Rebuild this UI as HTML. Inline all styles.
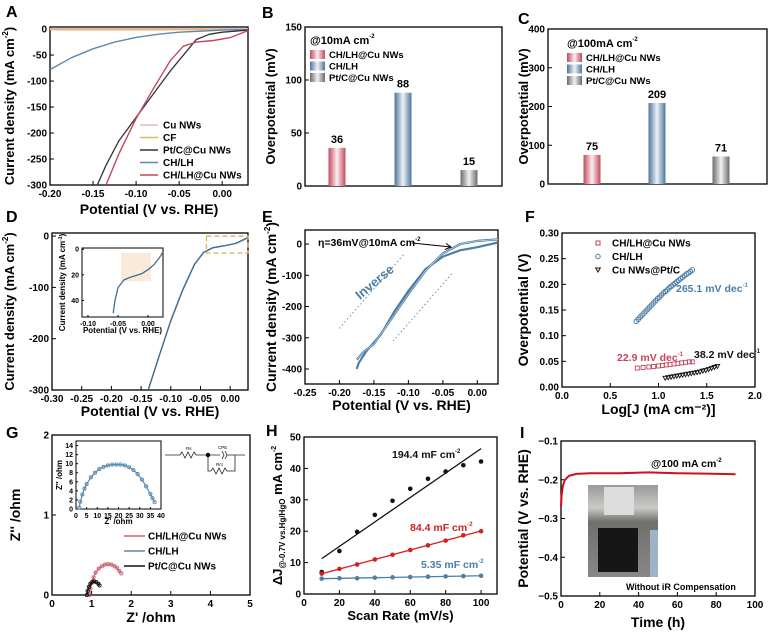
<!DOCTYPE html>
<html><head><meta charset="utf-8">
<style>
html,body{margin:0;padding:0;background:#fff;}
svg{display:block;font-family:"Liberation Sans",Arial,sans-serif;font-weight:bold;}
</style></head>
<body>
<svg id="fig" width="772" height="638" viewBox="0 0 772 638" xmlns="http://www.w3.org/2000/svg">
<defs>
<linearGradient id="gR" x1="0" x2="1"><stop offset="0" stop-color="#c24a5e"/><stop offset="0.5" stop-color="#fbeef0"/><stop offset="1" stop-color="#c24a5e"/></linearGradient>
<linearGradient id="gB" x1="0" x2="1"><stop offset="0" stop-color="#4f7598"/><stop offset="0.5" stop-color="#eef3f8"/><stop offset="1" stop-color="#4f7598"/></linearGradient>
<linearGradient id="gG" x1="0" x2="1"><stop offset="0" stop-color="#6b6b6b"/><stop offset="0.5" stop-color="#f2f2f2"/><stop offset="1" stop-color="#6b6b6b"/></linearGradient>
<linearGradient id="photo" x1="0" y1="0" x2="0" y2="1"><stop offset="0" stop-color="#9a9a98"/><stop offset="0.25" stop-color="#c9c9c6"/><stop offset="0.4" stop-color="#6f6f6c"/><stop offset="1" stop-color="#888"/></linearGradient>
</defs>
</svg>
<script>
// ---------- DATA ----------
// Panel A
const aCHLHx=[-0.2,-0.175,-0.15,-0.125,-0.1,-0.075,-0.05,-0.025,0,0.03];
const aCHLHy=[-78,-55,-38,-25,-16,-10,-6,-4,-2,-1];
const aPtx=[-0.145,-0.135,-0.12,-0.1,-0.08,-0.06,-0.04,-0.03,-0.015,0,0.03];
const aPty=[-300,-262,-215,-170,-125,-80,-40,-20,-10,-6,-2];
const aRedx=[-0.135,-0.12,-0.1,-0.08,-0.06,-0.045,-0.03,-0.01,0.01,0.03];
const aRedy=[-300,-240,-172,-115,-60,-33,-25,-22,-16,-3];
const aCFx=[-0.2,0.03]; const aCFy=[-1,-1];
const aCux=[-0.2,0.03]; const aCuy=[0.5,0.5];
const aXticks=[-0.2,-0.15,-0.1,-0.05,0]; const aXlabels=["-0.20","-0.15","-0.10","-0.05","0.00"];
const aYticks=[0,-50,-100,-150,-200,-250,-300];
// Panel B / C
const bCats=["CH/LH@Cu NWs","CH/LH","Pt/C@Cu NWs"];
const bVals=[36,88,15];
const cVals=[75,209,71];
const bYticks=[0,50,100,150];
const cYticks=[0,100,200,300,400];
// Panel D
const dX=[-0.138,-0.12,-0.1,-0.08,-0.06,-0.045,-0.03,-0.01,0.01,0.03];
const dY=[-300,-235,-165,-105,-55,-32,-23,-19,-14,-3];
const dInX=[-0.058,-0.055,-0.05,-0.04,-0.03,-0.01,0,0.01,0.02,0.025];
const dInY=[-50,-40,-30,-24,-22,-19,-16,-12,-6,-2];
const dXticks=[-0.3,-0.25,-0.2,-0.15,-0.1,-0.05,0]; const dXlabels=["-0.30","-0.25","-0.20","-0.15","-0.10","-0.05","0.00"];
const dYticks=[0,-100,-200,-300];
// Panel E
const eX1=[-0.175,-0.165,-0.15,-0.125,-0.1,-0.075,-0.05,-0.025,0,0.03];
const eY1=[-370,-345,-320,-240,-160,-85,-30,0,10,15];
const eX2=[-0.175,-0.172,-0.16,-0.14,-0.12,-0.1,-0.075,-0.05,-0.025,0,0.03];
const eY2=[-400,-380,-340,-290,-215,-150,-80,-40,-20,-10,5];
const eXticks=[-0.25,-0.2,-0.15,-0.1,-0.05,0]; const eXlabels=["-0.25","-0.20","-0.15","-0.10","-0.05","0.00"];
const eYticks=[0,-100,-200,-300,-400];
// Panel F
const fBx=[0.77,0.79,0.81,0.83,0.85,0.87,0.89,0.91,0.93,0.95,0.97,0.99,1.01,1.03,1.05,1.07,1.09,1.11,1.13,1.15,1.17,1.19,1.21,1.23,1.25,1.27,1.29,1.31,1.33,1.35];
const fBy=[0.128,0.132,0.136,0.140,0.144,0.148,0.152,0.156,0.160,0.164,0.168,0.172,0.175,0.179,0.183,0.186,0.189,0.193,0.196,0.199,0.202,0.205,0.208,0.211,0.214,0.217,0.220,0.222,0.225,0.228];
const fRx=[0.78,0.84,0.9,0.95,1.0,1.04,1.08,1.12,1.16,1.2,1.24,1.28,1.32,1.35];
const fRy=[0.037,0.038,0.039,0.040,0.041,0.042,0.043,0.044,0.045,0.046,0.047,0.048,0.049,0.049];
const fKx=[1.07,1.1,1.13,1.16,1.19,1.22,1.25,1.28,1.31,1.34,1.37,1.4,1.43,1.46,1.49,1.52,1.55,1.58,1.61];
const fKy=[0.017,0.018,0.019,0.020,0.021,0.022,0.023,0.024,0.025,0.026,0.027,0.028,0.029,0.031,0.032,0.034,0.036,0.038,0.040];
const fXticks=[0,0.5,1,1.5,2]; const fXlabels=["0.0","0.5","1.0","1.5","2.0"];
const fYticks=[0,0.05,0.1,0.15,0.2,0.25,0.3]; const fYlabels=["0.00","0.05","0.10","0.15","0.20","0.25","0.30"];
// Panel G
const gRx=[0.95,0.97,1.0,1.05,1.1,1.18,1.26,1.34,1.42,1.5,1.58,1.64,1.7,1.75];
const gRy=[0.0,0.08,0.15,0.22,0.28,0.33,0.36,0.38,0.385,0.38,0.36,0.34,0.3,0.27];
const gKx=[0.88,0.9,0.93,0.97,1.02,1.07,1.12,1.17,1.2];
const gKy=[0.0,0.05,0.1,0.14,0.165,0.17,0.16,0.14,0.12];
const gBx=[1.5,2,3,4,5,7,9,11,13,15,17,19,21,23,25,27,29,31,33,35,36,37];
const gBy=[0.3,1.6,3.2,4.5,5.5,7.0,8.0,8.8,9.3,9.6,9.8,9.8,9.8,9.6,9.2,8.6,7.7,6.5,5.0,3.3,2.4,1.5];
const gXticks=[0,1,2,3,4,5]; const gYticks=[0,1,2];
const gInXticks=[0,5,10,15,20,25,30,35,40]; const gInYticks=[0,2,4,6,8,10,12,14];
// Panel H
const hScan=[10,20,30,40,50,60,70,80,90,100];
const hBlack=[7,13.7,19.8,25.2,29.7,33.5,36.7,39,41,42.2];
const hRed=[6.5,8,9.4,11,12.5,14,15.5,17,18.7,20];
const hBlue=[4.9,5,5,5.2,5.3,5.4,5.5,5.6,5.7,5.8];
const hXticks=[0,20,40,60,80,100]; const hYticks=[0,10,20,30,40,50];
// Panel I
const iT=[0,0.3,1,2,4,8,15,30,45,60,75,90];
const iV=[-0.27,-0.24,-0.215,-0.2,-0.19,-0.185,-0.183,-0.183,-0.181,-0.183,-0.184,-0.186];
const iXticks=[0,20,40,60,80,100]; const iYticks=[-0.1,-0.2,-0.3,-0.4,-0.5]; const iYlabels=["\u22120.1","\u22120.2","\u22120.3","\u22120.4","\u22120.5"];

// ---------- HELPERS ----------
const NS="http://www.w3.org/2000/svg";
const svg=document.getElementById('fig');
function mk(tag,attrs,parent){const e=document.createElementNS(NS,tag);for(const k in attrs)e.setAttribute(k,attrs[k]);(parent||svg).appendChild(e);return e;}
function txt(s,x,y,size,parent,extra){const t=mk('text',Object.assign({x:x,y:y,'font-size':size},extra||{}),parent);t.textContent=s;return t;}
function panel(o){
  const g=mk('g',{});
  
  
  const sx=v=>o.x0+(v-o.xd[0])/(o.xd[1]-o.xd[0])*(o.x1-o.x0);
  const sy=v=>o.y1-(v-o.yd[0])/(o.yd[1]-o.yd[0])*(o.y1-o.y0);
  const fr=mk('rect',{x:o.x0,y:o.y0,width:o.x1-o.x0,height:o.y1-o.y0,fill:'none',stroke:'#000','stroke-width':o.sw||1.3},g);
  
  
  const fs=o.fs||10;
  (o.xt||[]).forEach((v,i)=>{
    mk('line',{x1:sx(v),x2:sx(v),y1:o.y1,y2:o.y1-(o.tl||4),stroke:'#000','stroke-width':1},g);
    const t=txt(o.xl?o.xl[i]:String(v),sx(v),o.y1+fs+2,fs,g,{'text-anchor':'middle'});
    
    
  });
  (o.yt||[]).forEach((v,i)=>{
    mk('line',{x1:o.x0,x2:o.x0+(o.tl||4),y1:sy(v),y2:sy(v),stroke:'#000','stroke-width':1},g);
    const t=txt(o.yl?o.yl[i]:String(v),o.x0-3,sy(v)+fs*0.35,fs,g,{'text-anchor':'end'});
    
    
  });
  if(o.xtitle){const t=txt(o.xtitle,(o.x0+o.x1)/2,o.xty,o.tfs||14,g,{'text-anchor':'middle'});
    
    }
  if(o.ytitle){const t=mk('text',{x:0,y:0,'font-size':o.ytfs||o.tfs||14,'text-anchor':'middle',transform:`translate(${o.ytx},${(o.y0+o.y1)/2}) rotate(-90)`},g);t.innerHTML=o.ytitle;
    
    }
  return {g,sx,sy};
}
function poly(P,xs,ys,color,w,parent,name){
  const d=xs.map((x,i)=>(i?'L':'M')+P.sx(x).toFixed(1)+','+P.sy(ys[i]).toFixed(1)).join('');
  const p=mk('path',{d:d,fill:'none',stroke:color,'stroke-width':w,'stroke-linejoin':'round'},parent||P.g);
  
  
  return p;
}
function letter(s,x,y){const t=txt(s,x,y,16,svg);
  
  }
const CD='Current density (mA cm<tspan font-size="8" dy="-6">-2</tspan><tspan dy="6">)</tspan>';

// ---------- A ----------
letter('A',6,17);
const A=panel({name:'panel-a',x0:50,x1:248,y0:27,y1:185,xd:[-0.2,0.03],yd:[-300,4],xt:aXticks,xl:aXlabels,yt:aYticks,xtitle:'Potential (V vs. RHE)',xty:214,ytitle:CD,ytx:14,ytfs:13});
poly(A,aCux,aCuy,'#f4b6bd',1.5,null,'series-cu-nws');
poly(A,aCFx,aCFy,'#e2b56b',1.5,null,'series-cf');
poly(A,aCHLHx,aCHLHy,'#5a8ab0',1.4,null,'series-ch-lh');
poly(A,aPtx,aPty,'#333',1.3,null,'series-ptc-cu-nws');
poly(A,aRedx,aRedy,'#c4465c',1.4,null,'series-ch-lh-cu-nws');
[['Cu NWs','#f4b6bd'],['CF','#e2b56b'],['Pt/C@Cu NWs','#333'],['CH/LH','#5a8ab0'],['CH/LH@Cu NWs','#c4465c']].forEach((e,i)=>{
  const y=125+i*12.5;
  const l=mk('line',{x1:140,x2:158,y1:y,y2:y,stroke:e[1],'stroke-width':1.6},A.g);
  
  
  const t=txt(e[0],163,y+3.5,10,A.g);
  
  
});

// ---------- B / C ----------
function barPanel(name,x0,x1,y0,y1,ymax,yt,vals,centers,title,ytx,lx,ly){
  const P=panel({name:name,x0:x0,x1:x1,y0:y0,y1:y1,xd:[0,1],yd:[0,ymax],yt:yt,ytitle:'Overpotential (mV)',ytx:ytx,tfs:13});
  const fills=['url(#gR)','url(#gB)','url(#gG)'];
  vals.forEach((v,i)=>{
    const r=mk('rect',{x:centers[i]-8.5,y:P.sy(v),width:17,height:P.sy(0)-P.sy(v),fill:fills[i]},P.g);
    
    
    const t=txt(String(v),centers[i],P.sy(v)-5,11,P.g,{'text-anchor':'middle'});
    
    
  });
  const tt=mk('text',{x:lx,y:ly,'font-size':11},P.g);tt.innerHTML=title+'<tspan font-size="6" dy="-6">-2</tspan>';
  
  
  bCats.forEach((c,i)=>{
    const y=ly+13+i*11.5;
    const s=mk('rect',{x:lx,y:y-7,width:15,height:9,fill:fills[i]},P.g);
    
    
    const t=txt(c,lx+19,y+1,9.5,P.g);
    
    
  });
  return P;
}
letter('B',262,18);
barPanel('panel-b',305,502,27,186,150,bYticks,bVals,[337,403,469],'@10mA cm',275,310,44);
letter('C',518,24);
barPanel('panel-c',548,767,29,184,400,cYticks,cVals,[592,657,721],'@100mA cm',528,567,47);

// ---------- D ----------
letter('D',6,222);
const D=panel({name:'panel-d',x0:52,x1:248,y0:233,y1:390,xd:[-0.3,0.03],yd:[-300,6],xt:dXticks,xl:dXlabels,yt:dYticks,xtitle:'Potential (V vs. RHE)',xty:416,ytitle:CD,ytx:14,ytfs:13});
poly(D,dX,dY,'#3f6f96',1.5,null,'series-ch-lh-cu-nws');
const db=mk('rect',{x:D.sx(-0.04),y:D.sy(0),width:D.sx(0.03)-D.sx(-0.04),height:D.sy(-33)-D.sy(0),fill:'none',stroke:'#d9b25e','stroke-width':1.3,'stroke-dasharray':'5,3'},D.g);


const DI=panel({name:'panel-d-inset',x0:82,x1:163,y0:248,y1:317,xd:[-0.11,0.025],yd:[-53,1],xt:[-0.1,-0.05,0],xl:['-0.10','-0.05','0.00'],yt:[0,-20,-40],yl:['0','20','40'],fs:7,sw:1,tl:2,xtitle:'Potential (V vs. RHE)',xty:333,tfs:8,ytitle:'Current density (mA cm<tspan font-size="5" dy="-3">-1</tspan><tspan dy="3">)</tspan>',ytx:65});
const hr=mk('rect',{x:DI.sx(-0.045),y:DI.sy(-3),width:DI.sx(0.005)-DI.sx(-0.045),height:DI.sy(-25)-DI.sy(-3),fill:'#fbe9da'},DI.g);


poly(DI,dInX,dInY,'#3f6f96',1.3,null,'inset-series');

// ---------- E ----------
letter('E',262,222);
const E=panel({name:'panel-e',x0:305,x1:498,y0:230,y1:384,xd:[-0.25,0.03],yd:[-448,45],xt:eXticks,xl:eXlabels,yt:eYticks,xtitle:'Potential (V vs. RHE)',xty:410,ytitle:CD,ytx:276});
poly(E,eX1,eY1,'#4d7ea6',2.2,null,'cv-forward');
poly(E,eX2,eY2,'#4d7ea6',2.2,null,'cv-reverse');
poly(E,eX1,eY1,'#d6e3ee',0.6,null,'cv-forward-highlight');
[[-0.135,-270,-0.04,-30],[-0.095,-95,-0.18,-310]].forEach((a,i)=>{
  const l=mk('line',{x1:E.sx(a[0])+ (i?40:-45),y1:E.sy(a[1]),x2:E.sx(a[2])+(i?40:-45),y2:E.sy(a[3]),stroke:'#6a8fae','stroke-width':1,'stroke-dasharray':'1.5,2.5'},E.g);
  
  
});
const inv=txt('Inverse',0,0,13,E.g,{fill:'#4d7ea6',transform:'translate(360,300) rotate(-40)'});


const ann=mk('text',{x:318,y:246,'font-size':10.5},E.g);ann.innerHTML='\u03b7=36mV@10mA cm<tspan font-size="6" dy="-5">-2</tspan>';


const al=mk('path',{d:'M412,243 L451,247 M446,243.5 L451,247 L445,249.5',fill:'none',stroke:'#000','stroke-width':1},E.g);



// ---------- F ----------
letter('F',525,222);
const F=panel({name:'panel-f',x0:562,x1:755,y0:233,y1:387,xd:[0,2],yd:[0,0.3],xt:fXticks,xl:fXlabels,yt:fYticks,yl:fYlabels,xtitle:'Log[J (mA cm\u207b\u00b2)]',xty:414,ytitle:'Overpotential (V)',ytx:528});
fBx.forEach((x,i)=>{const c=mk('circle',{cx:F.sx(x),cy:F.sy(fBy[i]),r:2.3,fill:'none',stroke:'#4d7ea6','stroke-width':1},F.g);
  
  });
fRx.forEach((x,i)=>{const c=mk('rect',{x:F.sx(x)-2,y:F.sy(fRy[i])-2,width:4,height:4,fill:'none',stroke:'#c4465c','stroke-width':0.9},F.g);
  
  });
fKx.forEach((x,i)=>{const X=F.sx(x),Y=F.sy(fKy[i]);const c=mk('path',{d:`M${X-2.3},${Y-2}L${X+2.3},${Y-2}L${X},${Y+2}Z`,fill:'none',stroke:'#111','stroke-width':0.9},F.g);
  
  });
[['CH/LH@Cu NWs','sq','#c4465c'],['CH/LH','ci','#4d7ea6'],['Cu NWs@Pt/C','tr','#111']].forEach((e,i)=>{
  const y=243+i*13.5;
  let m;
  if(e[1]==='sq')m=mk('rect',{x:596,y:y-2,width:4,height:4,fill:'none',stroke:e[2]},F.g);
  else if(e[1]==='ci')m=mk('circle',{cx:598,cy:y,r:2.2,fill:'none',stroke:e[2]},F.g);
  else m=mk('path',{d:`M595.7,${y-2}L600.3,${y-2}L598,${y+2}Z`,fill:'none',stroke:e[2]},F.g);
  
  
  const t=txt(e[0],612,y+3.5,10,F.g);
  
  
});
[['265.1 mV dec','#4d7ea6',676,292],['22.9 mV dec','#c4465c',617,361],['38.2 mV dec','#111',694,358]].forEach(e=>{
  const t=mk('text',{x:e[2],y:e[3],'font-size':10.5,fill:e[1]},F.g);t.innerHTML=e[0]+'<tspan font-size="6" dy="-5">-1</tspan>';
  
  
});

// ---------- G ----------
letter('G',6,438);
const G=panel({name:'panel-g',x0:52,x1:250,y0:435,y1:595,xd:[0,5],yd:[0,2],xt:gXticks,yt:gYticks,xtitle:"Z' /ohm",xty:622,ytitle:"Z'' /ohm",ytx:20});
function markLine(P,xs,ys,color,name){poly(P,xs,ys,color,1.2,null,name);
  xs.forEach((x,i)=>{const c=mk('circle',{cx:P.sx(x),cy:P.sy(ys[i]),r:1.6,fill:'none',stroke:color,'stroke-width':0.9},P.g);
    
    });}
markLine(G,gRx,gRy,'#d06070','ch-lh-cu-nws');
markLine(G,gKx,gKy,'#111','ptc-cu-nws');
[['CH/LH@Cu NWs','#d06070'],['CH/LH','#5a8ab0'],['Pt/C@Cu NWs','#111']].forEach((e,i)=>{
  const y=536+i*15;
  const l=mk('line',{x1:124,x2:145,y1:y,y2:y,stroke:e[1],'stroke-width':1.5},G.g);
  
  
  const t=txt(e[0],148,y+3.5,10,G.g);
  
  
});
const GI=panel({name:'panel-g-inset',x0:76,x1:161,y0:441,y1:509,xd:[0,40],yd:[0,15],xt:gInXticks,yt:gInYticks,fs:7,sw:1,tl:2,xtitle:"Z' /ohm",xty:524,tfs:8,ytitle:"Z'' /ohm",ytx:62});
markLine(GI,gBx,gBy,'#5a8ab0','ch-lh');
const circ=mk('g',{},G.g);


mk('path',{d:'M165,455 L180,455 l2,-3 l3,6 l3,-6 l3,6 l3,-6 l2,3 L209,455 M209,455 L220,455 M222,451 l2,4 l-2,4 M225,451 l2,4 l-2,4 M227,455 L245,455 M208,455 L208,471 L211,471 l2,-3 l3,6 l3,-6 l3,6 l3,-6 l2,3 L235,471 L235,455',fill:'none',stroke:'#222','stroke-width':0.8},circ);
mk('circle',{cx:208,cy:455,r:2.2,fill:'#000'},circ);
txt('Rs',186,450,4.5,circ,{'font-weight':'normal'});
txt('CPE',218,449,4.5,circ,{'font-weight':'normal'});
txt('Rct',216,466,4.5,circ,{'font-weight':'normal'});

// ---------- H ----------
letter('H',266,436);
const H=panel({name:'panel-h',x0:304,x1:497,y0:437,y1:594,xd:[0,109],yd:[0,50],xt:hXticks,yt:hYticks,xtitle:'Scan Rate (mV/s)',xty:620,ytitle:'\u0394J<tspan font-size="8" dy="3">@-0.7V vs.Hg/HgO</tspan><tspan dy="-3"> mA cm</tspan><tspan font-size="7" dy="-6">-2</tspan>',ytx:282,tfs:13});
function fit(xs,ys){const n=xs.length,mx=xs.reduce((a,b)=>a+b)/n,my=ys.reduce((a,b)=>a+b)/n;let num=0,den=0;xs.forEach((x,i)=>{num+=(x-mx)*(ys[i]-my);den+=(x-mx)*(x-mx);});const s=num/den;return [s,my-s*mx];}
[[hBlack,'#111','black'],[hRed,'#d32020','red'],[hBlue,'#4d7ea6','blue']].forEach(e=>{
  const f=fit(hScan,e[0]);
  const x0=hScan[0],x1=hScan[hScan.length-1];
  const l=mk('line',{x1:H.sx(x0),y1:H.sy(f[0]*x0+f[1]),x2:H.sx(x1),y2:H.sy(f[0]*x1+f[1]),stroke:e[1],'stroke-width':1.3},H.g);
  
  
  hScan.forEach((x,i)=>{const c=mk('circle',{cx:H.sx(x),cy:H.sy(e[0][i]),r:2.3,fill:e[1]},H.g);
    
    });
});
[['194.4 mF cm','#111',392,458],['84.4 mF cm','#d32020',410,531],['5.35 mF cm','#4d7ea6',421,568]].forEach(e=>{
  const t=mk('text',{x:e[2],y:e[3],'font-size':10.5,fill:e[1]},H.g);t.innerHTML=e[0]+'<tspan font-size="6" dy="-5">-2</tspan>';
  
  
});

// ---------- I ----------
letter('I',520,438);
const I=panel({name:'panel-i',x0:561,x1:755,y0:441,y1:596,xd:[0,100],yd:[-0.5,-0.1],xt:iXticks,yt:iYticks,yl:iYlabels,xtitle:'Time (h)',xty:627,ytitle:'Potential (V vs. RHE)',ytx:528});
const ph=mk('g',{},I.g);


mk('rect',{x:588,y:485,width:70,height:92,fill:'url(#photo)'},ph);
mk('rect',{x:604,y:487,width:30,height:28,fill:'#dcdcdc'},ph);
mk('rect',{x:598,y:528,width:40,height:44,fill:'#161616'},ph);
mk('rect',{x:650,y:530,width:8,height:47,fill:'#9fb3c8'},ph);
poly(I,iT,iV,'#d01020',2,null,'series-potential');
const it=mk('text',{x:651,y:467,'font-size':10.5},I.g);it.innerHTML='@100 mA cm<tspan font-size="6" dy="-5">-2</tspan>';


const wc=txt('Without iR Compensation',626,590,9,I.g);


</script>
</body></html>
